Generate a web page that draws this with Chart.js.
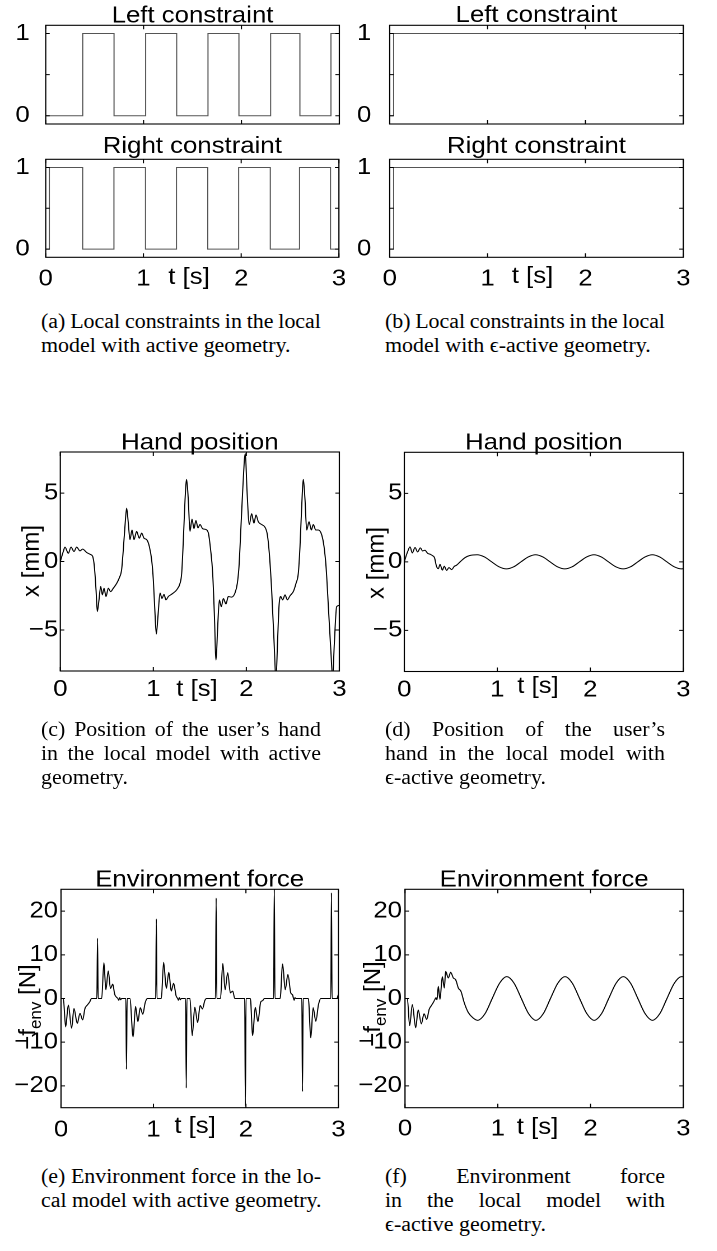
<!DOCTYPE html>
<html>
<head>
<meta charset="utf-8">
<script src="https://cdn.jsdelivr.net/npm/chart.js@4.4.1/dist/chart.umd.min.js"></script>
<style>
  html, body { margin: 0; padding: 0; background: #fff; }
  body { width: 717px; height: 1251px; position: relative; overflow: hidden; }
  .panel { position: absolute; transform-origin: 0 0; }
  .panel canvas { display: block; }
  .capline { position: absolute; height: 24px; line-height: 24px; transform-origin: 0 0;
             font-family: "Liberation Serif", "Times New Roman", Times, serif; font-size: 20.5px;
             color: #000; white-space: nowrap; }
  .capline.just { display: flex; justify-content: space-between; }
</style>
</head>
<body>
<script>
// ---- time axis and tick sets ----
const timeTicks = [0, 1, 2, 3];
const stateTicks = [0, 0.5, 1];
const stateLabels = [0, 1];
const posTicks = [-5, 0, 5];
const forceTicks = [-20, -10, 0, 10, 20];

// ---- constraint activity (switching instants in s, level after the switch) ----
const leftActiveT  = [0, 0.378, 0.698, 1.021, 1.338, 1.658, 1.974, 2.298, 2.597, 2.914, 3];
const leftActiveV  = [0, 1, 0, 1, 0, 1, 0, 1, 0, 1, 1];
const rightActiveT = [0, 0.037, 0.378, 0.698, 1.021, 1.338, 1.658, 1.974, 2.298, 2.597, 2.914, 3];
const rightActiveV = [0, 1, 0, 1, 0, 1, 0, 1, 0, 1, 0, 0];
const leftEpsT  = [0, 0.04, 3];
const leftEpsV  = [0, 1, 1];
const rightEpsT = [0, 0.04, 3];
const rightEpsV = [0, 1, 1];

// ---- hand position x [mm], active geometry ----
const handActive = [
  [0, 0], [0.032, 0.73], [0.05, 1.05], [0.086, 0.6], [0.115, 1.05], [0.147, 0.73], [0.176, 1.05],
  [0.211, 0.78], [0.24, 0.9], [0.283, 0.66], [0.326, 0.51], [0.348, 0.37],
  [0.366, -0.37], [0.384, -2.07], [0.398, -3.66], [0.416, -2.8], [0.434, -1.83], [0.452, -2.44],
  [0.470, -1.95], [0.491, -2.56], [0.516, -1.95], [0.541, -2.2], [0.570, -1.95], [0.606, -1.6],
  [0.634, -1.2], [0.659, -0.6], [0.677, 0.85], [0.695, 2.56], [0.713, 3.9],
  [0.731, 2.8], [0.749, 1.6], [0.771, 2.3], [0.792, 1.6], [0.821, 2.2], [0.849, 1.7],
  [0.875, 2.07], [0.900, 1.7], [0.928, 1.6], [0.957, 1.1], [0.982, 0.12], [1.000, -1.34],
  [1.018, -3.8], [1.032, -5.3],
  [1.050, -4.0], [1.072, -2.3], [1.093, -2.7], [1.115, -2.4], [1.136, -2.8], [1.161, -2.56],
  [1.186, -2.44], [1.215, -2.3], [1.251, -2.07], [1.287, -1.6], [1.305, -0.85], [1.323, 1.6],
  [1.341, 4.5], [1.358, 6.0],
  [1.376, 4.5], [1.394, 2.2], [1.416, 3.1], [1.437, 2.4], [1.458, 3.0], [1.48, 2.45],
  [1.502, 2.7], [1.53, 2.4], [1.56, 2.35], [1.591, 2.1], [1.616, 0.85], [1.638, -0.85],
  [1.656, -3.8], [1.674, -7.2],
  [1.692, -4.76], [1.710, -2.8], [1.731, -3.3], [1.753, -2.7], [1.781, -3.1], [1.806, -2.56],
  [1.842, -2.6], [1.878, -2.3], [1.903, -1.6], [1.921, -0.37], [1.939, 2.07], [1.961, 5.2],
  [1.989, 7.9],
  [2.007, 5.2], [2.032, 2.7], [2.057, 3.5], [2.082, 2.8], [2.104, 3.4], [2.129, 2.9],
  [2.165, 2.7], [2.201, 2.5], [2.226, 1.95], [2.247, 0.6], [2.272, -2.07], [2.297, -5.7],
  [2.319, -8.6],
  [2.335, -6.0], [2.351, -3.3], [2.369, -2.56], [2.391, -2.8], [2.416, -2.44], [2.441, -2.8],
  [2.470, -2.5], [2.505, -2.2], [2.534, -1.6], [2.559, -0.85], [2.577, 1.1], [2.595, 4.0],
  [2.613, 6.0],
  [2.631, 4.5], [2.649, 2.3], [2.674, 2.9], [2.699, 2.3], [2.720, 2.7], [2.746, 2.3],
  [2.774, 2.3], [2.810, 1.95], [2.835, 1.1], [2.857, -0.37], [2.882, -3.3], [2.910, -6.7],
  [2.928, -8.5],
  [2.946, -6.0], [2.971, -3.3], [3.0, -3.2]
];

// ---- hand position x [mm], epsilon-active geometry ----
const handEps = [
  [0, 0], [0.02, 0.45], [0.036, 0.75], [0.061, 1.1], [0.086, 0.66], [0.115, 1.05],
  [0.143, 0.73], [0.172, 1.02], [0.197, 0.8], [0.222, 0.85], [0.251, 0.62], [0.28, 0.55],
  [0.305, 0.45], [0.325, 0.3], [0.345, -0.3], [0.366, -0.5], [0.384, -0.18], [0.409, -0.6],
  [0.43, -0.32], [0.455, -0.62], [0.48, -0.42], [0.509, -0.56], [0.538, -0.32], [0.56, -0.25],
  [0.6, 0.0], [0.65, 0.3], [0.70, 0.46], [0.783, 0.52], [0.862, 0.36], [0.940, 0],
  [1.019, -0.36], [1.097, -0.51], [1.176, -0.36], [1.254, 0], [1.333, 0.36], [1.411, 0.52],
  [1.490, 0.36], [1.568, 0], [1.647, -0.36], [1.725, -0.51], [1.804, -0.36], [1.882, 0],
  [1.961, 0.36], [2.039, 0.52], [2.118, 0.36], [2.196, 0], [2.275, -0.36], [2.353, -0.51],
  [2.432, -0.36], [2.510, 0], [2.589, 0.36], [2.667, 0.52], [2.746, 0.36], [2.824, 0],
  [2.903, -0.36], [2.981, -0.51], [3.0, -0.5]
];

// ---- environment force [N], active geometry ----
const forceActive = [
  [0, 0], [0.025, 0], [0.05, -6.5], [0.079, -1.5], [0.115, -6.8], [0.14, -2.3], [0.176, -5.7],
  [0.205, -3.4], [0.234, -4.9], [0.259, -2.3], [0.284, -1.5], [0.31, -0.8], [0.33, 0],
  [0.388, 0], [0.395, 13.8], [0.402, 0], [0.44, 0], [0.464, 8.2], [0.485, 2.0], [0.511, 6.3],
  [0.535, 2.3], [0.56, 3.3], [0.58, 1.0], [0.6, 0.3], [0.615, 0], [0.625, -0.4], [0.635, 0.2],
  [0.645, -0.3], [0.655, 0],
  [0.701, 0], [0.708, -16.2], [0.715, 0], [0.745, 0], [0.78, -8.8], [0.806, -1.8],
  [0.832, -5.3], [0.857, -2.1], [0.885, -3.6], [0.91, -1.0], [0.935, 0],
  [1.024, 0], [1.031, 18.2], [1.038, 0], [1.085, 0], [1.11, 8.3], [1.139, 2.3], [1.166, 6.0],
  [1.192, 1.7], [1.218, 3.5], [1.245, 0.6], [1.262, 0], [1.27, -0.4], [1.28, 0.2],
  [1.29, -0.3], [1.30, 0],
  [1.348, 0], [1.355, -20.5], [1.362, 0], [1.395, 0], [1.419, -8.5], [1.447, -2.0],
  [1.478, -5.5], [1.505, -1.6], [1.53, -2.4], [1.555, -0.5], [1.575, 0],
  [1.671, 0], [1.678, 23.0], [1.685, 0], [1.725, 0], [1.75, 8.0], [1.775, 2.0], [1.803, 5.9],
  [1.832, 1.3], [1.857, 1.7], [1.88, 0],
  [1.987, 0], [1.994, -24.6], [2.001, 0], [2.048, 0], [2.073, -8.5], [2.101, -2.0],
  [2.13, -5.3], [2.16, -0.8], [2.18, -0.5], [2.2, 0],
  [2.3, 0], [2.307, 25.6], [2.314, 0], [2.37, 0], [2.397, 7.9], [2.425, 2.0], [2.454, 5.5],
  [2.485, 1.3], [2.505, 0.8], [2.515, 0], [2.522, -0.4], [2.53, 0.2], [2.54, 0],
  [2.605, 0], [2.612, -21.3], [2.619, 0], [2.675, 0], [2.702, -9.0], [2.727, -2.1],
  [2.756, -5.2], [2.785, -1.4], [2.81, 0],
  [2.918, 0], [2.925, 24.2], [2.932, 0], [2.985, 0], [3.0, 1.0]
];

// ---- environment force [N], epsilon-active geometry ----
const forceEps = [
  [0, 0], [0.025, 0], [0.05, -6.2], [0.079, -1.4], [0.115, -6.7], [0.142, -2.6], [0.176, -5.8],
  [0.205, -3.5], [0.234, -4.8], [0.26, -2.5], [0.285, -1.6], [0.305, -0.9], [0.32, -0.3],
  [0.335, 0.2], [0.345, -0.3], [0.359, 2.8], [0.377, -0.2], [0.402, 5.0], [0.424, 2.4],
  [0.438, 6.2], [0.467, 4.7], [0.492, 6.0], [0.521, 4.7], [0.546, 4.3], [0.575, 2.4],
  [0.603, 1.65], [0.639, -1.0], [0.682, -3.2], [0.736, -4.5], [0.783, -5.0], [0.862, -3.5],
  [0.940, 0], [1.019, 3.5], [1.097, 5.0], [1.176, 3.5], [1.254, 0], [1.333, -3.5],
  [1.411, -5.0], [1.490, -3.5], [1.568, 0], [1.647, 3.5], [1.725, 5.0], [1.804, 3.5],
  [1.882, 0], [1.961, -3.5], [2.039, -5.0], [2.118, -3.5], [2.196, 0], [2.275, 3.5],
  [2.353, 5.0], [2.432, 3.5], [2.510, 0], [2.589, -3.5], [2.667, -5.0], [2.746, -3.5],
  [2.824, 0], [2.903, 3.5], [2.981, 5.0], [3.0, 4.95]
];

// ---- figure layout ----
const K = 1.12;   // horizontal aspect of the whole figure (lettering and frames)
const FONT = '"Liberation Sans", Arial, Helvetica, sans-serif';
const FS = 23;
const STEP_GREY = '#555';

const zip = (ts, vs) => ts.map((t, i) => ({ x: t, y: vs[i] }));
const pts = pairs => pairs.map(([t, v]) => ({ x: t, y: v }));
const fmt = v => (v < 0 ? '\u2212' + Math.abs(v) : String(v));

const plots = [
  { id: 'aL', left: 0, width: 355, top: -10, height: 175,
    box: { L: 45.7, R: 339.3, T: 25.3, B: 124 }, yRange: [-0.1, 1.1], yTicks: stateTicks, yLabels: stateLabels,
    yPad: 16, xLabels: false, data: zip(leftActiveT, leftActiveV), stepped: true,
    title: 'Left constraint', titleY: 22.5 },
  { id: 'aR', left: 0, width: 355, top: 120, height: 180,
    box: { L: 45.7, R: 339.3, T: 159.3, B: 257.3 }, yRange: [-0.1, 1.1], yTicks: stateTicks, yLabels: stateLabels,
    yPad: 16, xLabels: true, xPad: 8, data: zip(rightActiveT, rightActiveV), stepped: true,
    title: 'Right constraint', titleY: 153, xTitle: 't [s]', xTitleX: 189, xTitleY: 284 },
  { id: 'bL', left: 355, width: 362, top: -10, height: 175,
    box: { L: 389.7, R: 683.3, T: 25.3, B: 124 }, yRange: [-0.1, 1.1], yTicks: stateTicks, yLabels: stateLabels,
    yPad: 18.4, xLabels: false, data: zip(leftEpsT, leftEpsV), stepped: true,
    title: 'Left constraint', titleY: 22 },
  { id: 'bR', left: 355, width: 362, top: 120, height: 180,
    box: { L: 389.7, R: 683.3, T: 159.3, B: 257.3 }, yRange: [-0.1, 1.1], yTicks: stateTicks, yLabels: stateLabels,
    yPad: 18.4, xLabels: true, xPad: 8, data: zip(rightEpsT, rightEpsV), stepped: true,
    title: 'Right constraint', titleY: 153, xTitle: 't [s]', xTitleX: 532.5, xTitleY: 283 },
  { id: 'c', left: 0, width: 355, top: 415, height: 305,
    box: { L: 60.3, R: 339.3, T: 452, B: 671 }, yRange: [-8, 8], yTicks: posTicks, yLabels: posTicks,
    yPad: 2, xLabels: true, xPad: 5, data: pts(handActive),
    title: 'Hand position', titleY: 449.5, xTitle: 't [s]', xTitleX: 197, xTitleY: 696,
    yTitle: { x: 38.5, cy: 561, parts: [{ text: 'x [mm]', size: 24 }] } },
  { id: 'd', left: 355, width: 362, top: 415, height: 305,
    box: { L: 404.3, R: 683.3, T: 452.3, B: 671.5 }, yRange: [-8, 8], yTicks: posTicks, yLabels: posTicks,
    yPad: 2, xLabels: true, xPad: 5, data: pts(handEps),
    title: 'Hand position', titleY: 449.5, xTitle: 't [s]', xTitleX: 538, xTitleY: 693,
    yTitle: { x: 383.5, cy: 563, parts: [{ text: 'x [mm]', size: 24 }] } },
  { id: 'e', left: 0, width: 355, top: 850, height: 300,
    box: { L: 61, R: 339.3, T: 889.3, B: 1107.7 }, yRange: [-25, 25], yTicks: forceTicks, yLabels: forceTicks,
    yPad: 3, xLabels: true, xPad: 8.5, data: pts(forceActive),
    title: 'Environment force', titleY: 886.7, xTitle: 't [s]', xTitleX: 195, xTitleY: 1133,
    yTitle: { x: 35, cy: 1007, parts: [{ text: '\u2212f', size: 24 }, { text: 'env', size: 17, shift: 6 }, { text: ' [N]', size: 24 }] } },
  { id: 'f', left: 355, width: 362, top: 850, height: 300,
    box: { L: 405, R: 683.3, T: 889.3, B: 1107.7 }, yRange: [-25, 25], yTicks: forceTicks, yLabels: forceTicks,
    yPad: 3, xLabels: true, xPad: 7.5, data: pts(forceEps),
    title: 'Environment force', titleY: 886.7, xTitle: 't [s]', xTitleX: 537.5, xTitleY: 1134,
    yTitle: { x: 380, cy: 1004, parts: [{ text: '\u2212f', size: 24 }, { text: 'env', size: 17, shift: 6 }, { text: ' [N]', size: 24 }] } }
];

function drawYTitle(ctx, cfg) {
  const yt = cfg.yTitle;
  ctx.save();
  ctx.translate((yt.x - cfg.left) / K, yt.cy - cfg.top);
  ctx.scale(1 / K, 1);
  ctx.rotate(-Math.PI / 2);
  let total = 0;
  const widths = yt.parts.map(p => {
    ctx.font = `${p.size}px ${FONT}`;
    const w = ctx.measureText(p.text).width;
    total += w;
    return w;
  });
  let x = -total / 2;
  ctx.textAlign = 'left';
  ctx.textBaseline = 'alphabetic';
  yt.parts.forEach((p, i) => {
    ctx.font = `${p.size}px ${FONT}`;
    ctx.fillText(p.text, x, p.shift || 0);
    x += widths[i];
  });
  ctx.restore();
}

function framePlugin(cfg) {
  return {
    id: 'frame_' + cfg.id,
    afterDatasetsDraw(chart) {
      const { ctx, chartArea: a } = chart;
      const xs = chart.scales.x, ys = chart.scales.y;
      ctx.save();
      ctx.strokeStyle = '#000';
      ctx.lineWidth = 1.1;
      ctx.strokeRect(a.left, a.top, a.right - a.left, a.bottom - a.top);
      const tl = 4;
      ctx.beginPath();
      xs.ticks.forEach(t => {
        const p = xs.getPixelForValue(t.value);
        ctx.moveTo(p, a.bottom); ctx.lineTo(p, a.bottom - tl);
        ctx.moveTo(p, a.top); ctx.lineTo(p, a.top + tl);
      });
      ys.ticks.forEach(t => {
        const p = ys.getPixelForValue(t.value);
        ctx.moveTo(a.left, p); ctx.lineTo(a.left + tl / K, p);
        ctx.moveTo(a.right, p); ctx.lineTo(a.right - tl / K, p);
      });
      ctx.lineWidth = 1;
      ctx.stroke();

      ctx.fillStyle = '#000';
      ctx.font = `${FS}px ${FONT}`;
      ctx.textAlign = 'center';
      ctx.textBaseline = 'alphabetic';
      if (cfg.title) ctx.fillText(cfg.title, (a.left + a.right) / 2, cfg.titleY - cfg.top);
      if (cfg.xTitle) ctx.fillText(cfg.xTitle, (cfg.xTitleX - cfg.left) / K, cfg.xTitleY - cfg.top);
      if (cfg.yTitle) drawYTitle(ctx, cfg);
      ctx.restore();
    }
  };
}

function makePlot(cfg) {
  const div = document.createElement('div');
  div.className = 'panel';
  div.style.left = cfg.left + 'px';
  div.style.top = cfg.top + 'px';
  div.style.width = (cfg.width / K) + 'px';
  div.style.height = cfg.height + 'px';
  div.style.transform = `scaleX(${K})`;
  const canvas = document.createElement('canvas');
  div.appendChild(canvas);
  document.body.appendChild(div);
  const b = cfg.box;
  const font = { family: FONT, size: FS };
  return new Chart(canvas, {
    type: 'line',
    data: {
      datasets: [{
        data: cfg.data,
        borderColor: cfg.stepped ? STEP_GREY : '#000',
        borderWidth: 1,
        pointRadius: 0,
        fill: false,
        stepped: cfg.stepped ? 'before' : false,
        cubicInterpolationMode: cfg.stepped ? 'default' : 'monotone'
      }]
    },
    options: {
      responsive: true,
      maintainAspectRatio: false,
      animation: false,
      devicePixelRatio: 2,
      events: [],
      layout: { padding: { left: 0, top: b.T - cfg.top, right: (cfg.left + cfg.width - b.R) / K, bottom: 0 } },
      plugins: { legend: { display: false }, tooltip: { enabled: false }, title: { display: false } },
      scales: {
        x: {
          type: 'linear', min: 0, max: 3,
          afterBuildTicks: s => { s.ticks = timeTicks.map(v => ({ value: v })); },
          afterFit: s => { s.height = cfg.top + cfg.height - b.B; },
          grid: { display: false, drawTicks: false },
          border: { display: false },
          ticks: { display: cfg.xLabels, padding: cfg.xPad || 0, font, color: '#000',
                   maxRotation: 0, autoSkip: false, callback: v => fmt(v) }
        },
        y: {
          type: 'linear', min: cfg.yRange[0], max: cfg.yRange[1],
          afterBuildTicks: s => { s.ticks = cfg.yTicks.map(v => ({ value: v })); },
          afterFit: s => { s.width = (b.L - cfg.left) / K; },
          grid: { display: false, drawTicks: false },
          border: { display: false },
          ticks: { padding: cfg.yPad / K, font, color: '#000', autoSkip: false,
                   callback: v => (cfg.yLabels.includes(v) ? fmt(v) : '') }
        }
      }
    },
    plugins: [framePlugin(cfg)]
  });
}

plots.forEach(makePlot);

// ---- sub-figure captions (justified lines, last line ragged) ----
const captionCols = [41, 385];
const CAP_W = 280;
const CAP_K = 1.07;
const LINE_STEP = 24;
const captions = [
  { col: 0, base: 328, lines: ['(a) Local constraints in the local', 'model with active geometry.'] },
  { col: 1, base: 328, lines: ['(b) Local constraints in the local', 'model with \u03f5-active geometry.'] },
  { col: 0, base: 736, lines: ['(c) Position of the user\u2019s hand', 'in the local model with active', 'geometry.'] },
  { col: 1, base: 736, lines: ['(d) Position of the user\u2019s', 'hand in the local model with', '\u03f5-active geometry.'] },
  { col: 0, base: 1183, lines: ['(e) Environment force in the lo-', 'cal model with active geometry.'] },
  { col: 1, base: 1183, lines: ['(f) Environment force', 'in the local model with', '\u03f5-active geometry.'] }
];
captions.forEach(c => {
  c.lines.forEach((line, i) => {
    const d = document.createElement('div');
    const justified = i < c.lines.length - 1;
    d.className = 'capline' + (justified ? ' just' : '');
    d.style.left = captionCols[c.col] + 'px';
    d.style.top = (c.base + i * LINE_STEP - 18.9) + 'px';
    d.style.width = (CAP_W / CAP_K) + 'px';
    d.style.transform = `scaleX(${CAP_K})`;
    if (justified) {
      line.split(' ').forEach(w => {
        const s = document.createElement('span');
        s.textContent = w;
        d.appendChild(s);
      });
    } else {
      d.textContent = line;
    }
    document.body.appendChild(d);
  });
});
</script>
</body>
</html>
